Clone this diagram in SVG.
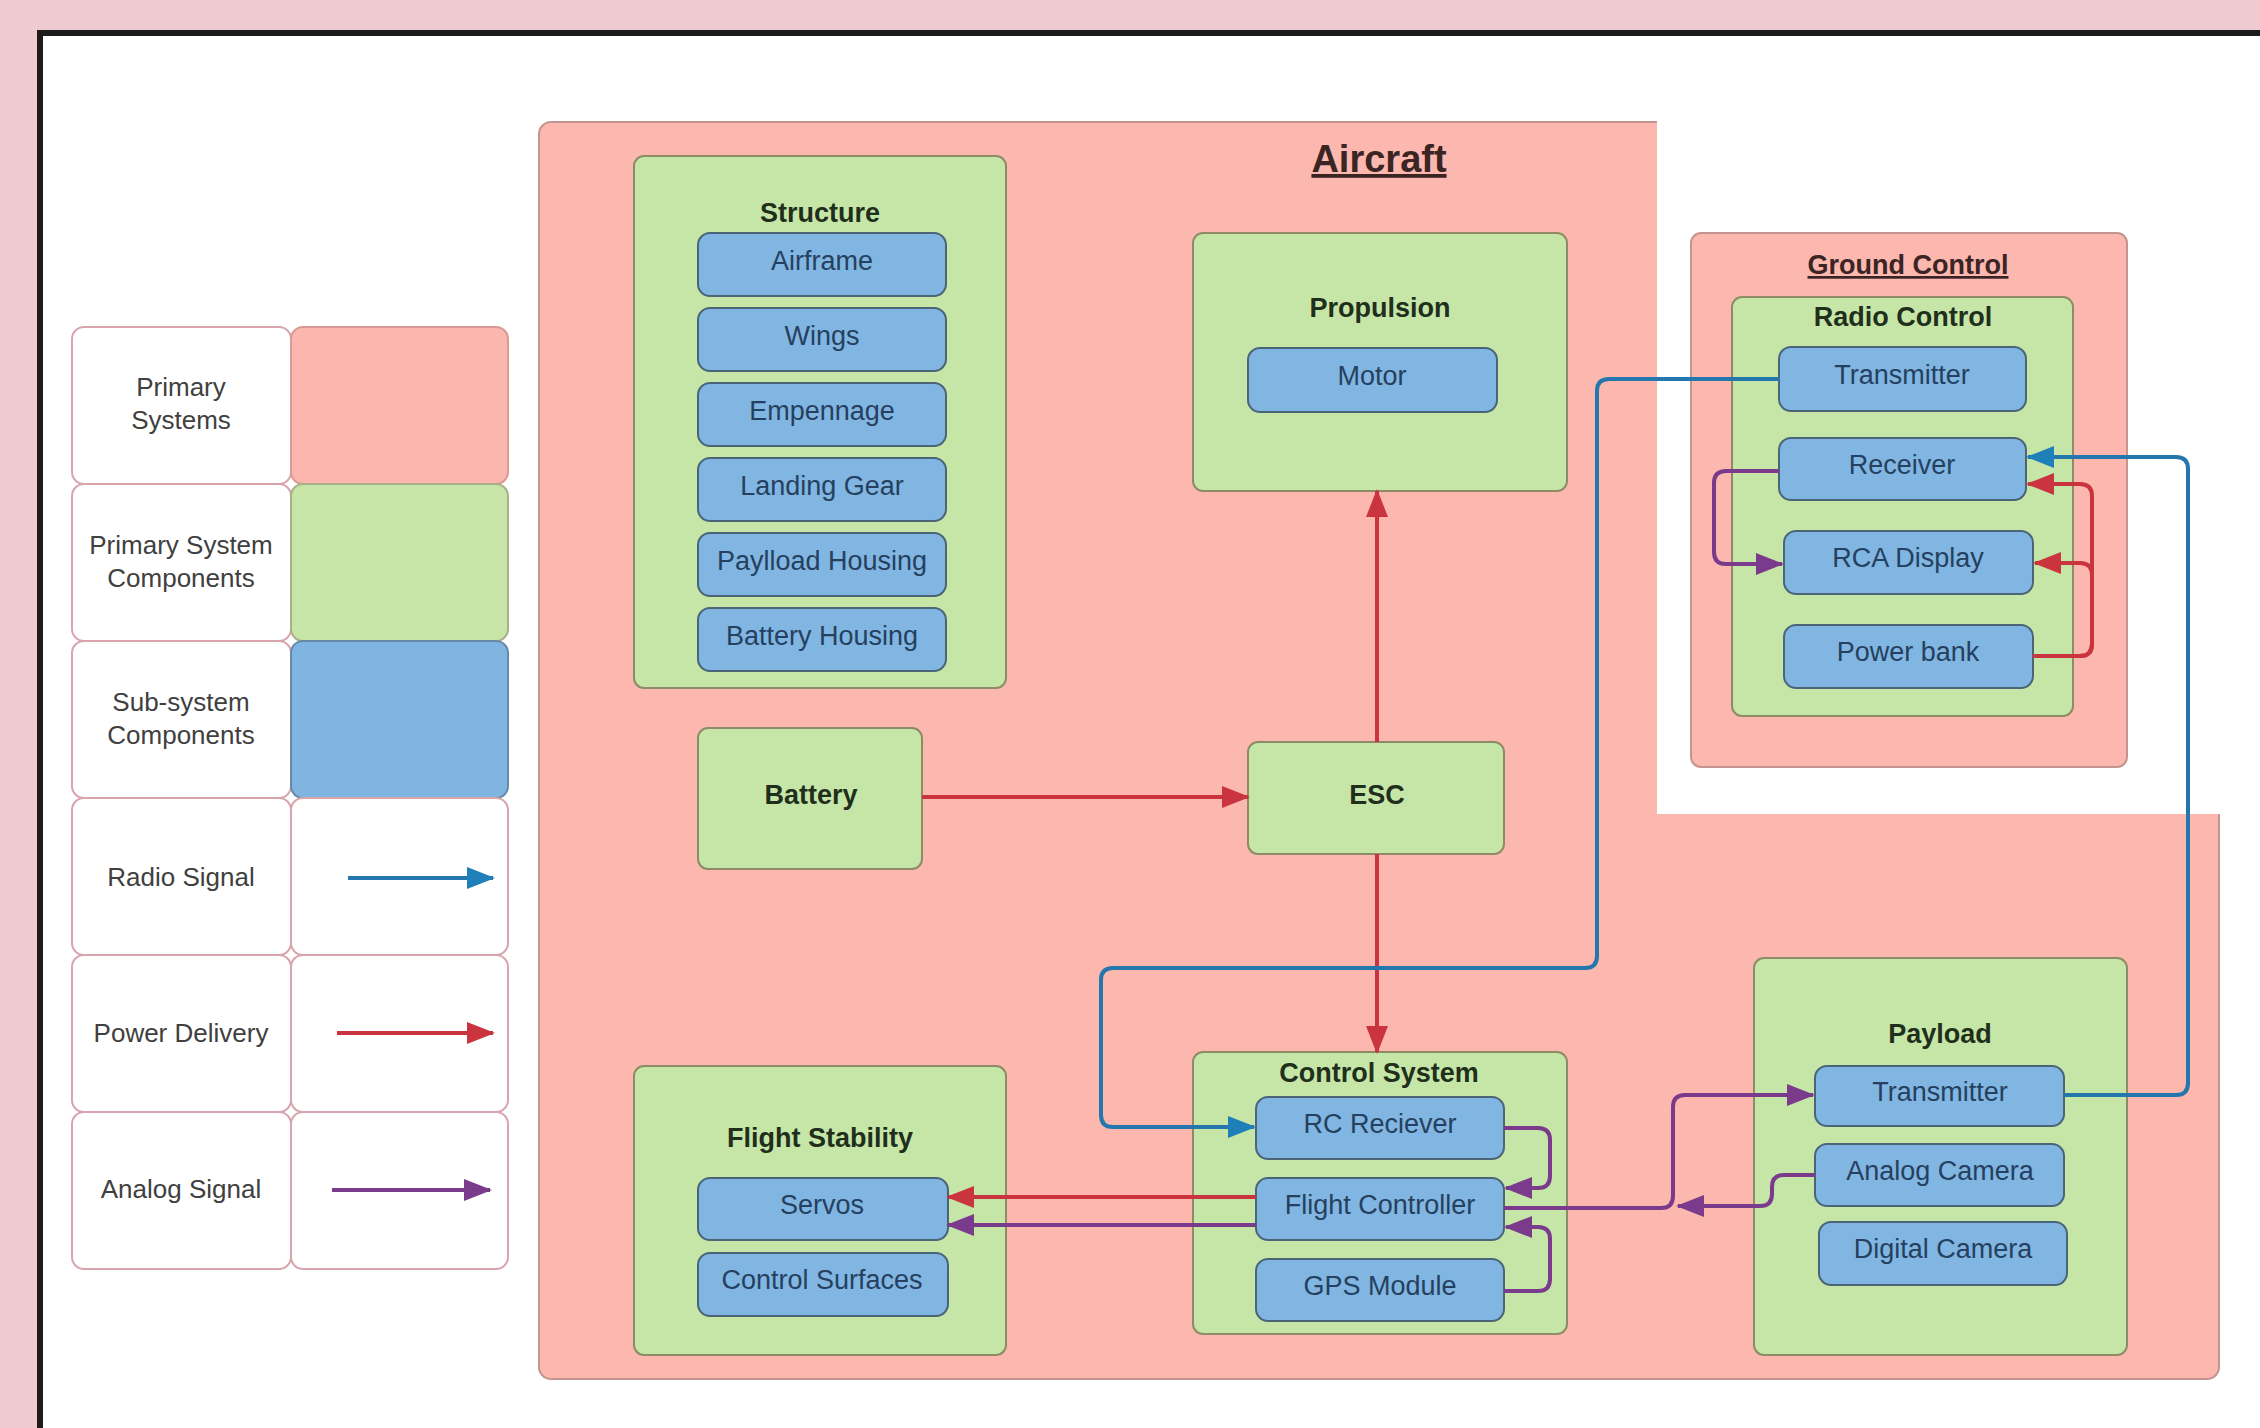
<svg xmlns="http://www.w3.org/2000/svg" width="2260" height="1428" viewBox="0 0 2260 1428">
<style>
.lc{fill:#fff;stroke:#d8a4ae;stroke-width:2}
.lt{font-family:"Liberation Sans",Arial,sans-serif;font-size:26px;fill:#404040;text-anchor:middle}
.g{fill:#c6e6a8;stroke:#8e8c66;stroke-width:2}
.b{fill:#80b6e1;stroke:#4a6478;stroke-width:2}
.p{fill:#fcb7ae;stroke:#c4948e;stroke-width:2}
.bt{font-family:"Liberation Sans",Arial,sans-serif;font-size:27px;fill:#26405f;text-anchor:middle}
.tt{font-family:"Liberation Sans",Arial,sans-serif;font-size:27px;font-weight:bold;fill:#1f2f1c;text-anchor:middle}
.ut{font-family:"Liberation Sans",Arial,sans-serif;font-weight:bold;fill:#3a2424;text-anchor:middle;text-decoration:underline}
.cr{fill:none;stroke:#c9343f;stroke-width:4;marker-end:url(#ar)}
.cb{fill:none;stroke:#2477ad;stroke-width:4;marker-end:url(#ab)}
.cp{fill:none;stroke:#7b3b8c;stroke-width:4;marker-end:url(#ap)}
</style>
<defs>
<marker id="ar" markerUnits="userSpaceOnUse" markerWidth="28" markerHeight="22" refX="26" refY="11" orient="auto"><path d="M0,0 L28,11 L0,22 z" fill="#c9343f"/></marker>
<marker id="ab" markerUnits="userSpaceOnUse" markerWidth="28" markerHeight="22" refX="26" refY="11" orient="auto"><path d="M0,0 L28,11 L0,22 z" fill="#1f7fb8"/></marker>
<marker id="ap" markerUnits="userSpaceOnUse" markerWidth="28" markerHeight="22" refX="26" refY="11" orient="auto"><path d="M0,0 L28,11 L0,22 z" fill="#7b3b8c"/></marker>
</defs>
<rect x="0" y="0" width="2260" height="1428" fill="#efcad0"/>
<rect x="37" y="30" width="2240" height="1410" fill="#1c1a1a"/>
<rect x="43" y="36" width="2230" height="1400" fill="#ffffff"/>

<g id="legend">
<rect class="lc" x="72" y="327" width="219" height="157" rx="12"/>
<rect x="291" y="327" width="217" height="157" rx="12" fill="#fbb6ad" stroke="#d89a94" stroke-width="2"/>
<rect class="lc" x="72" y="484" width="219" height="157" rx="12"/>
<rect x="291" y="484" width="217" height="157" rx="12" fill="#c6e5a7" stroke="#a8b08a" stroke-width="2"/>
<rect class="lc" x="72" y="641" width="219" height="157" rx="12"/>
<rect x="291" y="641" width="217" height="157" rx="12" fill="#7fb5e0" stroke="#6a88a8" stroke-width="2"/>
<rect class="lc" x="72" y="798" width="219" height="157" rx="12"/>
<rect class="lc" x="291" y="798" width="217" height="157" rx="12"/>
<rect class="lc" x="72" y="955" width="219" height="157" rx="12"/>
<rect class="lc" x="291" y="955" width="217" height="157" rx="12"/>
<rect class="lc" x="72" y="1112" width="219" height="157" rx="12"/>
<rect class="lc" x="291" y="1112" width="217" height="157" rx="12"/>
<text class="lt" x="181" y="396">Primary</text>
<text class="lt" x="181" y="429">Systems</text>
<text class="lt" x="181" y="554">Primary System</text>
<text class="lt" x="181" y="587">Components</text>
<text class="lt" x="181" y="711">Sub-system</text>
<text class="lt" x="181" y="744">Components</text>
<text class="lt" x="181" y="886">Radio Signal</text>
<text class="lt" x="181" y="1042">Power Delivery</text>
<text class="lt" x="181" y="1198">Analog Signal</text>
<path class="cb" d="M348 878 H493"/>
<path class="cr" d="M337 1033 H493"/>
<path class="cp" d="M332 1190 H490"/>
</g>

<g id="aircraft">
<rect class="p" x="539" y="122" width="1680" height="1257" rx="12"/>
<rect x="1657" y="110" width="570" height="704" fill="#ffffff"/>
<text class="ut" x="1379" y="172" font-size="38">Aircraft</text>
</g>

<g id="structure">
<rect class="g" x="634" y="156" width="372" height="532" rx="10"/>
<text class="tt" x="820" y="222">Structure</text>
<rect class="b" x="698" y="233" width="248" height="63" rx="12"/>
<text class="bt" x="822" y="270">Airframe</text>
<rect class="b" x="698" y="308" width="248" height="63" rx="12"/>
<text class="bt" x="822" y="345">Wings</text>
<rect class="b" x="698" y="383" width="248" height="63" rx="12"/>
<text class="bt" x="822" y="420">Empennage</text>
<rect class="b" x="698" y="458" width="248" height="63" rx="12"/>
<text class="bt" x="822" y="495">Landing Gear</text>
<rect class="b" x="698" y="533" width="248" height="63" rx="12"/>
<text class="bt" x="822" y="570">Paylload Housing</text>
<rect class="b" x="698" y="608" width="248" height="63" rx="12"/>
<text class="bt" x="822" y="645">Battery Housing</text>
</g>

<g id="propulsion">
<rect class="g" x="1193" y="233" width="374" height="258" rx="10"/>
<text class="tt" x="1380" y="317">Propulsion</text>
<rect class="b" x="1248" y="348" width="249" height="64" rx="12"/>
<text class="bt" x="1372" y="385">Motor</text>
</g>

<g id="battery">
<rect class="g" x="698" y="728" width="224" height="141" rx="10"/>
<text class="tt" x="811" y="804">Battery</text>
</g>

<g id="esc">
<rect class="g" x="1248" y="742" width="256" height="112" rx="10"/>
<text class="tt" x="1377" y="804">ESC</text>
</g>

<g id="control-system">
<rect class="g" x="1193" y="1052" width="374" height="282" rx="10"/>
<text class="tt" x="1379" y="1082">Control System</text>
<rect class="b" x="1256" y="1097" width="248" height="62" rx="12"/>
<text class="bt" x="1380" y="1133">RC Reciever</text>
<rect class="b" x="1256" y="1178" width="248" height="62" rx="12"/>
<text class="bt" x="1380" y="1214">Flight Controller</text>
<rect class="b" x="1256" y="1259" width="248" height="62" rx="12"/>
<text class="bt" x="1380" y="1295">GPS Module</text>
</g>

<g id="flight-stability">
<rect class="g" x="634" y="1066" width="372" height="289" rx="10"/>
<text class="tt" x="820" y="1147">Flight Stability</text>
<rect class="b" x="698" y="1178" width="250" height="62" rx="12"/>
<text class="bt" x="822" y="1214">Servos</text>
<rect class="b" x="698" y="1253" width="250" height="63" rx="12"/>
<text class="bt" x="822" y="1289">Control Surfaces</text>
</g>

<g id="ground-control">
<rect class="p" x="1691" y="233" width="436" height="534" rx="10"/>
<text class="ut" x="1908" y="274" font-size="27">Ground Control</text>
</g>

<g id="radio-control">
<rect class="g" x="1732" y="297" width="341" height="419" rx="10"/>
<text class="tt" x="1903" y="326">Radio Control</text>
<rect class="b" x="1779" y="347" width="247" height="64" rx="12"/>
<text class="bt" x="1902" y="384">Transmitter</text>
<rect class="b" x="1779" y="438" width="247" height="62" rx="12"/>
<text class="bt" x="1902" y="474">Receiver</text>
<rect class="b" x="1784" y="531" width="249" height="63" rx="12"/>
<text class="bt" x="1908" y="567">RCA Display</text>
<rect class="b" x="1784" y="625" width="249" height="63" rx="12"/>
<text class="bt" x="1908" y="661">Power bank</text>
</g>

<g id="payload">
<rect class="g" x="1754" y="958" width="373" height="397" rx="10"/>
<text class="tt" x="1940" y="1043">Payload</text>
<rect class="b" x="1815" y="1066" width="249" height="60" rx="12"/>
<text class="bt" x="1940" y="1101">Transmitter</text>
<rect class="b" x="1815" y="1144" width="249" height="62" rx="12"/>
<text class="bt" x="1940" y="1180">Analog Camera</text>
<rect class="b" x="1819" y="1222" width="248" height="63" rx="12"/>
<text class="bt" x="1943" y="1258">Digital Camera</text>
</g>

<g id="connectors">
<path class="cr" d="M922 797 H1248"/>
<path class="cr" d="M1377 742 V491"/>
<path class="cr" d="M1377 854 V1052"/>
<path class="cr" d="M1256 1197 H948"/>
<path class="cp" d="M1256 1225 H948"/>
<path class="cp" d="M1504 1128 H1538 Q1550 1128 1550 1140 V1176 Q1550 1188 1538 1188 H1506"/>
<path class="cp" d="M1504 1291 H1538 Q1550 1291 1550 1279 V1239 Q1550 1227 1538 1227 H1506"/>
<path class="cp" d="M1504 1208 H1661 Q1673 1208 1673 1196 V1107 Q1673 1095 1685 1095 H1813"/>
<path class="cp" d="M1815 1175 H1784 Q1772 1175 1772 1187 V1194 Q1772 1206 1760 1206 H1678"/>
<path class="cb" d="M1779 379 H1609 Q1597 379 1597 391 V956 Q1597 968 1585 968 H1113 Q1101 968 1101 980 V1115 Q1101 1127 1113 1127 H1254"/>
<path class="cb" d="M2064 1095 H2176 Q2188 1095 2188 1083 V469 Q2188 457 2176 457 H2028"/>
<path class="cp" d="M1779 471 H1726 Q1714 471 1714 483 V552 Q1714 564 1726 564 H1782"/>
<path class="cr" d="M2033 656 H2080 Q2092 656 2092 644 V575 Q2092 563 2080 563 H2035"/>
<path class="cr" d="M2033 656 H2080 Q2092 656 2092 644 V496 Q2092 484 2080 484 H2028"/>
</g>
</svg>
